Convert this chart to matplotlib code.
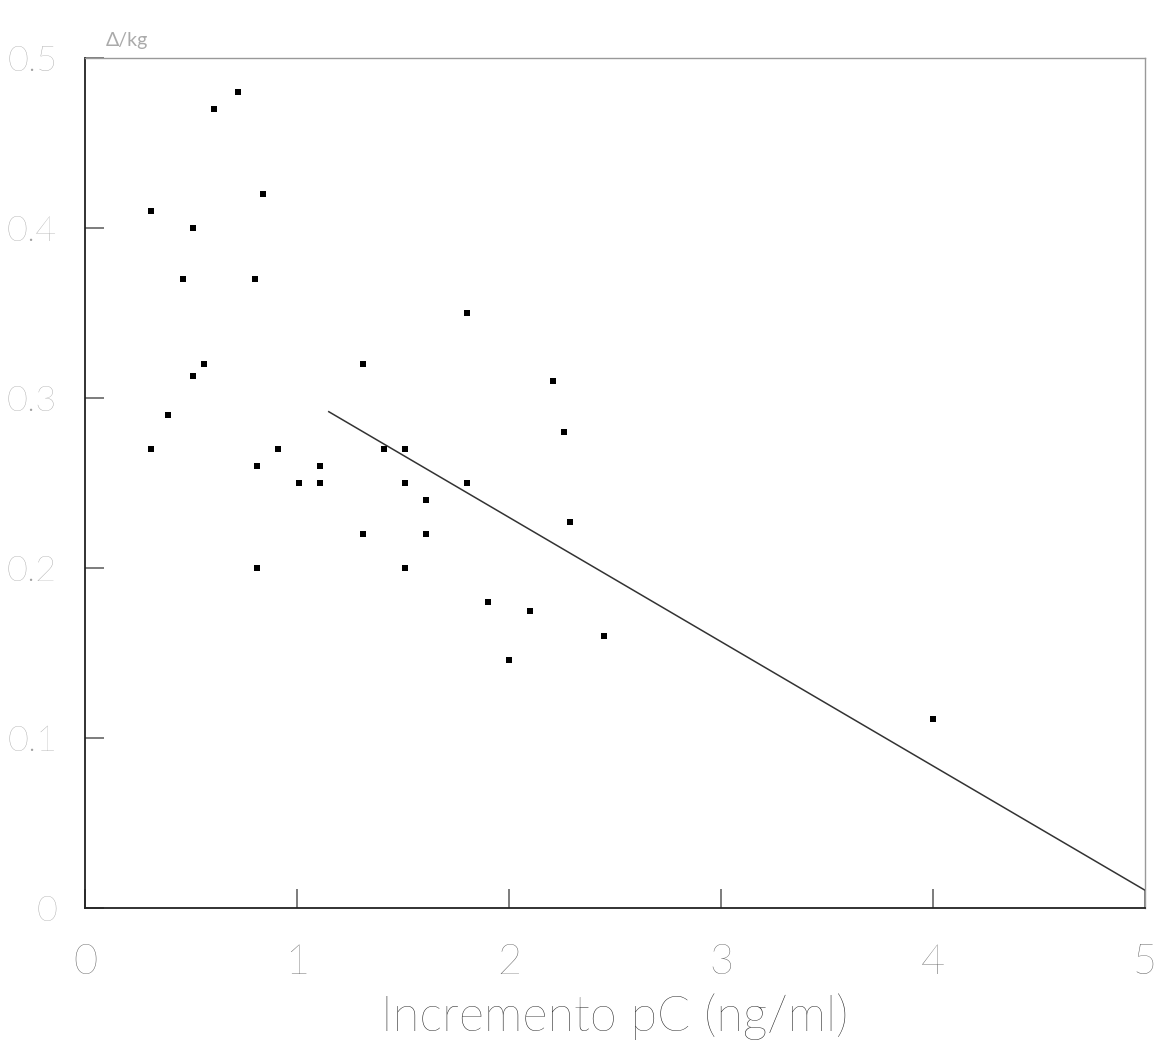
import matplotlib
matplotlib.use("Agg")
import matplotlib.pyplot as plt

# puntos medidos
incremento_pc = [0.31, 0.31, 0.39, 0.46, 0.51, 0.51, 0.56, 0.61, 0.72, 0.80,
                 0.81, 0.81, 0.84, 0.91, 1.01, 1.11, 1.11, 1.31, 1.31, 1.41,
                 1.51, 1.51, 1.51, 1.61, 1.61, 1.80, 1.80, 1.90, 2.00, 2.10,
                 2.21, 2.26, 2.29, 2.45, 4.00]
respuesta = [0.270, 0.410, 0.290, 0.370, 0.400, 0.313, 0.320, 0.470, 0.480, 0.370,
             0.260, 0.200, 0.420, 0.270, 0.250, 0.260, 0.250, 0.220, 0.320, 0.270,
             0.270, 0.250, 0.200, 0.240, 0.220, 0.250, 0.350, 0.180, 0.146, 0.175,
             0.310, 0.280, 0.227, 0.160, 0.111]

# recta de regresion
recta_x = [1.15, 5.0]
pendiente = -0.0731
ordenada = 0.376

x_ticks = [0, 1, 2, 3, 4, 5]
x_labels = ["0", "1", "2", "3", "4", "5"]
y_ticks = [0, 0.1, 0.2, 0.3, 0.4, 0.5]
y_labels = ["0", "0.1", "0.2", "0.3", "0.4", "0.5"]

plt.rcParams['font.family'] = ['Lato', 'DejaVu Sans']

fig = plt.figure(figsize=(11.66, 10.54), dpi=100)
ax = fig.add_axes([0.0729, 0.1385, 0.909, 0.8065])

ax.scatter(incremento_pc, respuesta, marker='s', s=22, color='black', linewidths=0, zorder=3)
ax.plot(recta_x, [ordenada + pendiente * v for v in recta_x], color='#333333', lw=1.1)

ax.set_xlim(0, 5)
ax.set_ylim(0, 0.5)
ax.set_xticks(x_ticks)
ax.set_xticklabels(x_labels)
ax.set_yticks(y_ticks)
ax.set_yticklabels(y_labels)
ax.tick_params(direction='in', length=14, width=1.2, color='#666666')
ax.tick_params(axis='y', labelsize=26, labelcolor='#a0a0a0', pad=20)
ax.tick_params(axis='x', labelsize=30, labelcolor='#555555', pad=26)
for lbl in ax.get_xticklabels() + ax.get_yticklabels():
    lbl.set_fontweight('light')

for side in ['left', 'bottom']:
    ax.spines[side].set_color('#222222')
    ax.spines[side].set_linewidth(1.3)
for side in ['top', 'right']:
    ax.spines[side].set_color('#999999')
    ax.spines[side].set_linewidth(1.0)

ax.set_xlabel("Incremento pC (ng/ml)", fontsize=35, color='#222222',
              fontweight='light', labelpad=8)
ax.text(0.02, 1.01, "Δ/kg", transform=ax.transAxes, fontsize=14,
        color='#aaaaaa', ha='left', va='bottom')

fig.savefig("out.png", dpi=100, facecolor='white')
